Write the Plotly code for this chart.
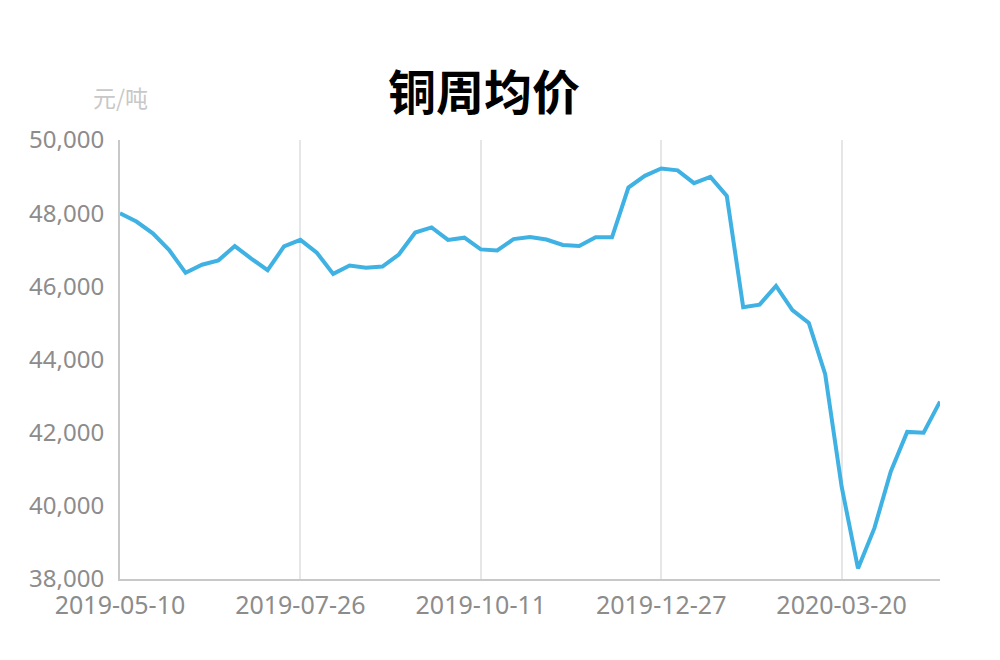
import plotly.graph_objects as go
from datetime import date, timedelta

# weekly dates (Chinese New Year week 2020-01-31 absent)
start = date(2019, 5, 10)
dates = []
d = start
while len(dates) < 51:
    if d != date(2020, 1, 31):
        dates.append(d.isoformat())
    d += timedelta(days=7)

prices = [48000, 47770, 47450, 46990, 46370, 46590, 46710, 47100, 46760, 46440,
          47090, 47270, 46920, 46340, 46570, 46510, 46540, 46870, 47470, 47610,
          47270, 47330, 47010, 46980, 47290, 47350, 47280, 47130, 47100, 47340,
          47340, 48700, 49020, 49220, 49170, 48820, 48990, 48470, 45430, 45500,
          46010, 45350, 45000, 43600, 40530, 38290, 39390, 40940, 42020, 42000,
          42850]

tick_dates = [dates[i] for i in (0, 11, 22, 33, 44)]
y_ticks = [38000, 40000, 42000, 44000, 46000, 48000, 50000]

fig = go.Figure()
fig.add_trace(go.Scatter(
    x=dates, y=prices, mode="lines",
    line=dict(color="#3fb1e3", width=4),
    hoverinfo="x+y",
))

fig.update_layout(
    width=1000, height=660,
    paper_bgcolor="white", plot_bgcolor="white",
    margin=dict(l=120, r=60, t=140, b=81, autoexpand=False),
    showlegend=False,
    font=dict(family="Noto Sans, Noto Sans CJK SC, sans-serif", color="#8c8c8c"),
    title=dict(
        text="<b>铜周均价</b>", x=0.484, xanchor="center", y=0.859, yanchor="middle",
        font=dict(family="Noto Sans CJK SC, sans-serif", size=48, color="#000000"),
    ),
    annotations=[dict(
        text="元/吨", xref="paper", yref="paper", x=0.0, y=1.098,
        xanchor="center", yanchor="middle", showarrow=False,
        font=dict(family="Noto Sans CJK SC, sans-serif", size=23, color="#c8c8c8"),
    )],
)

fig.update_xaxes(
    type="category", range=[0, len(dates) - 1],
    tickmode="array", tickvals=tick_dates, ticktext=tick_dates,
    showgrid=True, gridcolor="#e6e6e6", gridwidth=1.5,
    showline=True, linecolor="#c8c8c8", linewidth=2,
    ticks="", ticklabelstandoff=3, tickfont=dict(size=25, color="#8c8c8c"),
    zeroline=False, automargin=False,
)
fig.update_yaxes(
    range=[38000, 50000], tickvals=y_ticks, tickformat=",d",
    showgrid=False, showline=True, linecolor="#c8c8c8", linewidth=2,
    ticks="", ticklabelstandoff=9, tickfont=dict(size=24, color="#8c8c8c"),
    zeroline=False, automargin=False,
)

fig.write_html("out.html", config={"displayModeBar": False},
               post_script="document.body.style.margin='0';")
